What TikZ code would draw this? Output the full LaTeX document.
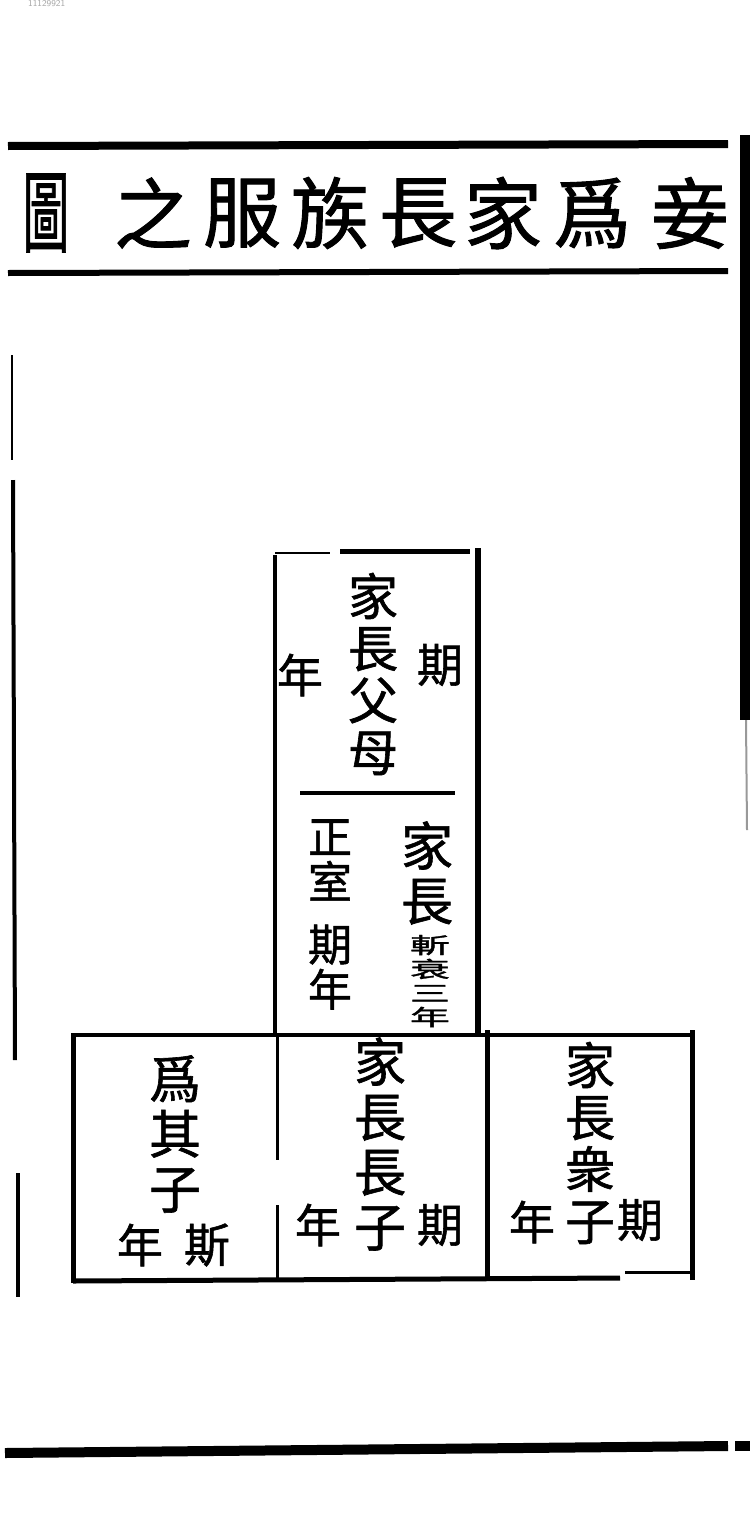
\documentclass[tikz,border=0pt]{standalone}
\usepackage{fontspec}
\newfontfamily\cjk[FakeBold=1.2]{Noto Sans CJK TC}
\begin{document}
\begin{tikzpicture}[x=1pt,y=-1pt,
  rl/.style={line width=#1, draw=black},
  ttl/.style={font=\cjk\fontsize{78}{78}\selectfont, inner sep=0pt},
  colA/.style={font=\cjk\fontsize{50}{52}\selectfont, align=center, inner sep=0pt},
  colB/.style={font=\cjk\fontsize{52}{55}\selectfont, align=center, inner sep=0pt},
  colC/.style={font=\cjk\fontsize{44}{45}\selectfont, align=center, inner sep=0pt},
  small/.style={font=\cjk\fontsize{40}{24}\selectfont, align=center, inner sep=0pt},
  one/.style={font=\cjk\fontsize{46}{46}\selectfont, inner sep=0pt}]
\useasboundingbox (0,0) rectangle (750,1539);
\fill[white] (0,0) rectangle (750,1539);
\node[anchor=north west, inner sep=0pt, text=black!35, font=\sffamily\fontsize{9}{9}\selectfont] (id) at (28,0) {11129921};
% page frame
\draw[rl=8pt] (8,146) -- (728,144);
\draw[rl=6pt] (8,273) -- (728,271);
\draw[rl=10pt] (745,135) -- (745,720);
\draw[rl=2pt, draw=black!40] (746,720) -- (747,830);
\draw[rl=10pt] (5,1453) -- (728,1446);
\draw[rl=10pt] (735,1446) -- (750,1446);
\draw[rl=2.5pt] (12,355) -- (12,460);
\draw[rl=4pt] (13,480) -- (15,1060);
\draw[rl=4pt] (18,1173) -- (18,1297);
% title
\node[ttl] (t1) at (690,213) {妾};
\node[ttl] (t2) at (592,213) {爲};
\node[ttl] (t3) at (503,213) {家};
\node[ttl] (t4) at (418,213) {長};
\node[ttl] (t5) at (330,213) {族};
\node[ttl] (t6) at (242,213) {服};
\node[ttl] (t7) at (153,213) {之};
\node[ttl] (t8) at (46,213) {\scalebox{0.6}[1.15]{圖}};
% upper box
\draw[rl=4pt] (275,555) -- (275,1035);
\draw[rl=6pt] (478,548) -- (478,1035);
\draw[rl=5pt] (340,551) -- (470,551);
\draw[rl=2pt] (275,553) -- (330,553);
\draw[rl=4pt] (300,793) -- (455,793);
% lower box
\draw[rl=4pt] (73,1035) -- (692,1035);
\draw[rl=5pt] (73,1033) -- (73,1283);
\draw[rl=5pt] (692,1030) -- (692,1280);
\draw[rl=3pt] (277,1035) -- (277,1160);
\draw[rl=3pt] (277,1205) -- (277,1278);
\draw[rl=5pt] (487,1030) -- (487,1280);
\draw[rl=5pt] (73,1281) -- (620,1278);
\draw[rl=3pt] (625,1272) -- (690,1272);
% upper box text
\node[colA] (fm) at (373,674) {家\\長\\父\\母};
\node[one] (fmq) at (440,665) {期};
\node[one] (fmn) at (300,675) {年};
\node[colB] (jz) at (427,873) {家\\長};
\node[small] (zc) at (430,981) {\scalebox{1}[0.55]{斬}\\\scalebox{1}[0.55]{衰}\\\scalebox{1}[0.55]{三}\\\scalebox{1}[0.55]{年}};
\node[colC] (zs) at (330,860) {正\\室};
\node[colC] (zsq) at (330,967) {期\\年};
% lower row text
\node[colB] (wq) at (175,1134) {爲\\其\\子};
\node[one] (wqn) at (140,1245) {年};
\node[one] (wqq) at (207,1245) {斯};
\node[colB] (cz) at (380,1144) {家\\長\\長\\子};
\node[one] (czq) at (440,1225) {期};
\node[one] (czn) at (318,1225) {年};
\node[colA] (zz) at (590,1143) {家\\長\\衆\\子};
\node[one] (zzq) at (640,1220) {期};
\node[one] (zzn) at (532,1222) {年};
\end{tikzpicture}
\end{document}
